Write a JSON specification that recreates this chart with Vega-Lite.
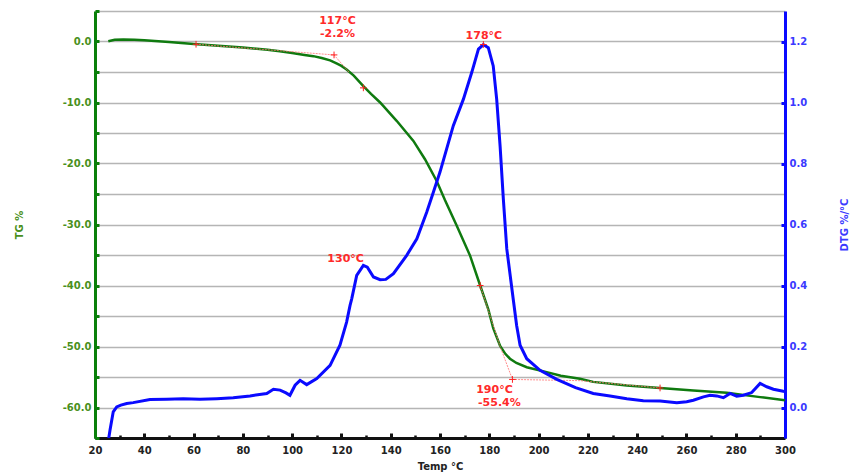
{
  "$schema": "https://vega.github.io/schema/vega-lite/v6.json",
  "width": 690,
  "height": 427,
  "autosize": {"type": "none"},
  "padding": {"left": 95, "top": 11, "right": 65, "bottom": 37},
  "background": "white",
  "config": {"view": {"stroke": null}, "font": "DejaVu Sans"},
  "datasets": {
    "tg": [
      {"T": 25.4, "TG": 0.05}, {"T": 28, "TG": 0.3}, {"T": 31.5, "TG": 0.33}, {"T": 36, "TG": 0.3},
      {"T": 40, "TG": 0.2}, {"T": 50, "TG": -0.1}, {"T": 60, "TG": -0.4}, {"T": 70, "TG": -0.7},
      {"T": 80, "TG": -1.0}, {"T": 90, "TG": -1.35}, {"T": 95, "TG": -1.6}, {"T": 100, "TG": -1.9},
      {"T": 105, "TG": -2.2}, {"T": 108.6, "TG": -2.4}, {"T": 112, "TG": -2.7}, {"T": 115.4, "TG": -3.1},
      {"T": 118, "TG": -3.6}, {"T": 120, "TG": -4.0}, {"T": 122.1, "TG": -4.6}, {"T": 125, "TG": -5.6},
      {"T": 128.9, "TG": -7.3}, {"T": 132, "TG": -8.6}, {"T": 135.7, "TG": -10.0}, {"T": 142.4, "TG": -13.0},
      {"T": 149.2, "TG": -16.3}, {"T": 153.9, "TG": -19.3}, {"T": 158.7, "TG": -22.9}, {"T": 162, "TG": -26.0},
      {"T": 166.8, "TG": -30.2}, {"T": 172.2, "TG": -35.1}, {"T": 176.3, "TG": -40.0}, {"T": 179.6, "TG": -43.9},
      {"T": 181.6, "TG": -47.0}, {"T": 184.4, "TG": -49.9}, {"T": 186.5, "TG": -51.2}, {"T": 188.4, "TG": -52.0},
      {"T": 191, "TG": -52.7}, {"T": 195.2, "TG": -53.4}, {"T": 203.3, "TG": -54.2}, {"T": 209, "TG": -54.8},
      {"T": 216.8, "TG": -55.3}, {"T": 222.2, "TG": -55.8}, {"T": 235.8, "TG": -56.4}, {"T": 249.3, "TG": -56.8},
      {"T": 262.8, "TG": -57.2}, {"T": 276.4, "TG": -57.6}, {"T": 289.9, "TG": -58.3}, {"T": 300, "TG": -58.8}
    ],
    "dtg": [
      {"T": 25.2, "DTG": -0.12}, {"T": 26.1, "DTG": -0.074}, {"T": 27.4, "DTG": -0.014}, {"T": 28.8, "DTG": 0.002},
      {"T": 30.5, "DTG": 0.008}, {"T": 32.9, "DTG": 0.013}, {"T": 35.5, "DTG": 0.016}, {"T": 42.3, "DTG": 0.026},
      {"T": 49.1, "DTG": 0.027}, {"T": 55.8, "DTG": 0.029}, {"T": 62.6, "DTG": 0.027}, {"T": 69.4, "DTG": 0.029},
      {"T": 76.1, "DTG": 0.032}, {"T": 82.9, "DTG": 0.038}, {"T": 89.7, "DTG": 0.046}, {"T": 92.4, "DTG": 0.06},
      {"T": 95.1, "DTG": 0.057}, {"T": 97.5, "DTG": 0.048}, {"T": 99.1, "DTG": 0.04}, {"T": 101.2, "DTG": 0.073},
      {"T": 103.2, "DTG": 0.089}, {"T": 105.9, "DTG": 0.075}, {"T": 110, "DTG": 0.095}, {"T": 115.4, "DTG": 0.138},
      {"T": 119.4, "DTG": 0.204}, {"T": 122.1, "DTG": 0.28}, {"T": 123.5, "DTG": 0.335}, {"T": 124.2, "DTG": 0.357},
      {"T": 126.2, "DTG": 0.433}, {"T": 128.9, "DTG": 0.466}, {"T": 130.5, "DTG": 0.46}, {"T": 133, "DTG": 0.428},
      {"T": 135.7, "DTG": 0.419}, {"T": 138, "DTG": 0.42}, {"T": 141.1, "DTG": 0.439}, {"T": 146.5, "DTG": 0.499},
      {"T": 150.6, "DTG": 0.553}, {"T": 154.6, "DTG": 0.64}, {"T": 157.3, "DTG": 0.706}, {"T": 160, "DTG": 0.772},
      {"T": 162.7, "DTG": 0.848}, {"T": 165.4, "DTG": 0.924}, {"T": 169.5, "DTG": 1.011}, {"T": 172.9, "DTG": 1.099},
      {"T": 175.6, "DTG": 1.175}, {"T": 177.6, "DTG": 1.19}, {"T": 179.6, "DTG": 1.18}, {"T": 181.6, "DTG": 1.12},
      {"T": 183, "DTG": 1.011}, {"T": 184.4, "DTG": 0.855}, {"T": 185.7, "DTG": 0.684}, {"T": 187.1, "DTG": 0.52},
      {"T": 189.8, "DTG": 0.35}, {"T": 191.1, "DTG": 0.269}, {"T": 192.5, "DTG": 0.204}, {"T": 195.2, "DTG": 0.16},
      {"T": 200.6, "DTG": 0.122}, {"T": 207.4, "DTG": 0.092}, {"T": 215, "DTG": 0.065}, {"T": 222.2, "DTG": 0.046},
      {"T": 229, "DTG": 0.038}, {"T": 235.8, "DTG": 0.029}, {"T": 242.5, "DTG": 0.022}, {"T": 249.3, "DTG": 0.021},
      {"T": 256.1, "DTG": 0.016}, {"T": 260.1, "DTG": 0.019}, {"T": 262.8, "DTG": 0.024}, {"T": 266.9, "DTG": 0.035},
      {"T": 269.6, "DTG": 0.04}, {"T": 272.3, "DTG": 0.038}, {"T": 275, "DTG": 0.032}, {"T": 277.7, "DTG": 0.046},
      {"T": 280.4, "DTG": 0.037}, {"T": 283.1, "DTG": 0.04}, {"T": 286.5, "DTG": 0.049}, {"T": 289.9, "DTG": 0.079},
      {"T": 292.6, "DTG": 0.068}, {"T": 295.3, "DTG": 0.06}, {"T": 299.3, "DTG": 0.053}, {"T": 300, "DTG": 0.052}
    ],
    "constr": [
      {"seg": "a", "T": 61, "TG": -0.45}, {"seg": "a", "T": 117, "TG": -2.2}, {"seg": "a", "T": 123, "TG": -5.0},
      {"seg": "b", "T": 176.3, "TG": -40.0}, {"seg": "b", "T": 184.4, "TG": -50.0}, {"seg": "b", "T": 189.4, "TG": -55.4},
      {"seg": "b", "T": 216.8, "TG": -55.6}, {"seg": "b", "T": 249.3, "TG": -56.8}
    ],
    "cross": [
      {"T": 61, "TG": -0.45}, {"T": 117, "TG": -2.2}, {"T": 128.9, "TG": -7.6},
      {"T": 176.3, "TG": -40.0}, {"T": 189.4, "TG": -55.4}, {"T": 249.3, "TG": -56.8}
    ],
    "crossdtg": [{"T": 177.6, "DTG": 1.19}],
    "labels": [
      {"T": 118.4, "TG": 3.3, "label": "117°C"},
      {"T": 118.4, "TG": 1.2, "label": "-2.2%"},
      {"T": 177.8, "TG": 0.95, "label": "178°C"},
      {"T": 121.7, "TG": -35.7, "label": "130°C"},
      {"T": 182.1, "TG": -57.1, "label": "190°C"},
      {"T": 184.1, "TG": -59.2, "label": "-55.4%"}
    ]
  },
  "layer": [
    {
      "layer": [
        {
          "data": {"name": "tg"},
          "mark": {"type": "line", "color": "#0f7a0f", "strokeWidth": 2.5, "clip": true},
          "encoding": {
            "x": {
              "field": "T", "type": "quantitative",
              "scale": {"domain": [20, 300], "nice": false, "zero": false},
              "axis": {
                "title": "Temp °C",
                "values": [20, 30, 40, 50, 60, 70, 80, 90, 100, 110, 120, 130, 140, 150, 160, 170, 180, 190, 200, 210, 220, 230, 240, 250, 260, 270, 280, 290, 300],
                "tickCount": 100,
                "labelExpr": "datum.value % 20 === 0 ? datum.label : ''",
                "grid": false,
                "domainColor": "#111111", "domainWidth": 3,
                "tickColor": "#111111",
                "tickWidth": {"condition": {"test": "datum.value % 20 === 0", "value": 3}, "value": 2.5},
                "tickSize": {"condition": {"test": "datum.value % 20 === 0", "value": -5}, "value": -3},
                "labelColor": "#222222", "labelFont": "DejaVu Sans", "labelFontWeight": "bold", "labelFontSize": 10,
                "labelPadding": 12, "labelFlush": false, "labelOverlap": false,
                "titleColor": "#222222", "titleFont": "DejaVu Sans", "titleFontWeight": "bold", "titleFontSize": 10,
                "titlePadding": 4
              }
            },
            "y": {
              "field": "TG", "type": "quantitative",
              "scale": {"domain": [-65, 5], "nice": false, "zero": false},
              "axis": {
                "title": "TG %",
                "orient": "left",
                "values": [-65, -60, -55, -50, -45, -40, -35, -30, -25, -20, -15, -10, -5, 0, 5],
                "tickCount": 100,
                "labelExpr": "datum.value % 10 == 0 ? (datum.value < 0 ? '-' + format(-datum.value, '.1f') : format(datum.value, '.1f')) : ''",
                "grid": true, "gridColor": "#b5b5b5", "gridWidth": 1.5,
                "domainColor": "#0a800a", "domainWidth": 3,
                "tickColor": "#0a800a", "tickWidth": 3, "tickSize": -4,
                "labelColor": "#4a9020", "labelFont": "DejaVu Sans", "labelFontWeight": "bold", "labelFontSize": 10,
                "labelPadding": 8, "labelOverlap": false,
                "titleColor": "#4a9020", "titleFont": "DejaVu Sans", "titleFontWeight": "bold", "titleFontSize": 10,
                "titleAngle": 270, "titlePadding": 38
              }
            }
          }
        },
        {
          "data": {"name": "constr"},
          "mark": {"type": "line", "color": "#ff7070", "strokeWidth": 1, "opacity": 0.8, "strokeDash": [2, 1]},
          "encoding": {
            "x": {"field": "T", "type": "quantitative"},
            "y": {"field": "TG", "type": "quantitative"},
            "detail": {"field": "seg"}
          }
        },
        {
          "data": {"name": "cross"},
          "mark": {"type": "point", "shape": "M-1,0L1,0M0,-1L0,1", "filled": false, "color": "#ff2020", "strokeWidth": 1, "size": 45, "opacity": 1},
          "encoding": {
            "x": {"field": "T", "type": "quantitative"},
            "y": {"field": "TG", "type": "quantitative"}
          }
        },
        {
          "data": {"name": "labels"},
          "mark": {"type": "text", "color": "#ff2a2a", "font": "DejaVu Sans", "fontWeight": "bold", "fontSize": 11, "align": "center", "baseline": "middle"},
          "encoding": {
            "x": {"field": "T", "type": "quantitative"},
            "y": {"field": "TG", "type": "quantitative"},
            "text": {"field": "label"}
          }
        }
      ]
    },
    {
      "layer": [
        {
          "data": {"name": "dtg"},
          "mark": {"type": "line", "color": "#0a0aff", "strokeWidth": 3, "clip": true},
          "encoding": {
            "x": {"field": "T", "type": "quantitative"},
            "y": {
              "field": "DTG", "type": "quantitative",
              "scale": {"domain": [-0.1, 1.3], "nice": false, "zero": false},
              "axis": {
                "title": "DTG %/°C",
                "orient": "right",
                "values": [0, 0.2, 0.4, 0.6, 0.8, 1.0, 1.2],
                "tickCount": 100,
                "format": ".1f",
                "grid": false,
                "domainColor": "#0a0aff", "domainWidth": 3,
                "tickColor": "#0a0aff", "tickWidth": 3, "tickSize": -4,
                "labelColor": "#3a3aff", "labelFont": "DejaVu Sans", "labelFontWeight": "bold", "labelFontSize": 10,
                "labelPadding": 8,
                "titleColor": "#3a3aff", "titleFont": "DejaVu Sans", "titleFontWeight": "bold", "titleFontSize": 10,
                "titleAngle": 270, "titlePadding": 43
              }
            }
          }
        },
        {
          "data": {"name": "crossdtg"},
          "mark": {"type": "point", "shape": "M-1,0L1,0M0,-1L0,1", "filled": false, "color": "#ff2020", "strokeWidth": 1, "size": 45, "opacity": 1},
          "encoding": {
            "x": {"field": "T", "type": "quantitative"},
            "y": {"field": "DTG", "type": "quantitative"}
          }
        }
      ]
    }
  ],
  "resolve": {"scale": {"y": "independent"}}
}
